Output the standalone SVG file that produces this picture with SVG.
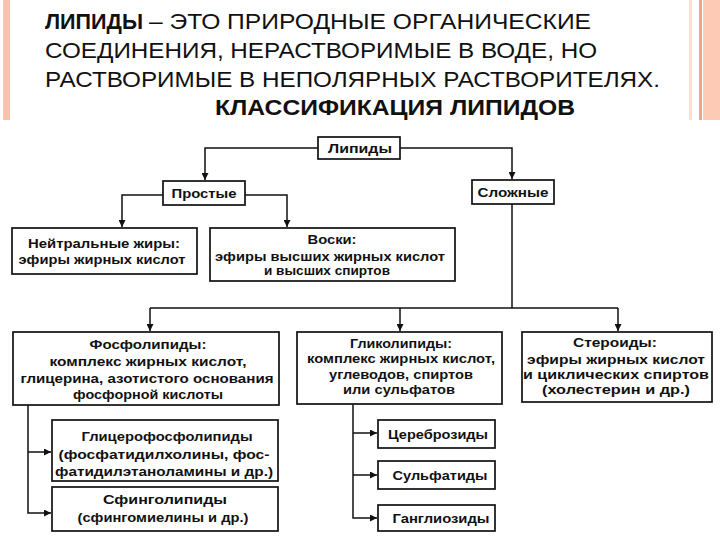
<svg xmlns="http://www.w3.org/2000/svg" width="720" height="540" viewBox="0 0 720 540">
<style>
.t{font-family:"Liberation Sans",Arial,sans-serif;font-size:22px;fill:#111}
.tb{font-family:"Liberation Sans",Arial,sans-serif;font-size:22px;font-weight:bold;fill:#111}
.bx{fill:#fff;stroke:#111;stroke-width:1.7}
.n{font-family:"Liberation Sans",Arial,sans-serif;font-size:13.5px;font-weight:bold;fill:#111;text-anchor:middle}
.c{fill:none;stroke:#111;stroke-width:1.5}
</style>
<defs>
<marker id="ar" viewBox="0 0 8 8" refX="8" refY="4" markerWidth="7" markerHeight="7" markerUnits="userSpaceOnUse" orient="auto">
<path d="M0,0 L8,4 L0,8 Z" fill="#111"/>
</marker>
</defs>
<rect width="720" height="540" fill="#fff"/>
<g id="decor">
<rect x="3" y="0" width="7" height="120" fill="#f6c3b1"/>
<rect x="689" y="0" width="3" height="120" fill="#f7ddd2"/>
<rect x="699" y="0" width="3" height="120" fill="#f0a482"/>
<rect x="703" y="0" width="17" height="120" fill="#fccab5"/>
</g>
<g id="title">
<text class="tb" x="45" y="29" textLength="98" lengthAdjust="spacingAndGlyphs">ЛИПИДЫ</text>
<text class="t" x="149" y="29" textLength="442" lengthAdjust="spacingAndGlyphs">– ЭТО ПРИРОДНЫЕ ОРГАНИЧЕСКИЕ</text>
<text class="t" x="45" y="58" textLength="552" lengthAdjust="spacingAndGlyphs">СОЕДИНЕНИЯ, НЕРАСТВОРИМЫЕ В ВОДЕ, НО</text>
<text class="t" x="45" y="87" textLength="615" lengthAdjust="spacingAndGlyphs">РАСТВОРИМЫЕ В НЕПОЛЯРНЫХ РАСТВОРИТЕЛЯХ.</text>
<text class="tb" x="215" y="115" textLength="360" lengthAdjust="spacingAndGlyphs">КЛАССИФИКАЦИЯ ЛИПИДОВ</text>
</g>
<g id="connectors">
<path class="c" d="M318,148 H205 V180" marker-end="url(#ar)"/>
<path class="c" d="M400,148 H512 V179" marker-end="url(#ar)"/>
<path class="c" d="M163,195 H122 V227" marker-end="url(#ar)"/>
<path class="c" d="M245,195 H287 V227" marker-end="url(#ar)"/>
<path class="c" d="M512,204 V308"/>
<path class="c" d="M150,308 H618"/>
<path class="c" d="M150,308 V331" marker-end="url(#ar)"/>
<path class="c" d="M400,308 V331" marker-end="url(#ar)"/>
<path class="c" d="M618,308 V331" marker-end="url(#ar)"/>
<path class="c" d="M28,405 V513 H51" marker-end="url(#ar)"/>
<path class="c" d="M28,452 H51" marker-end="url(#ar)"/>
<path class="c" d="M353,404 V518 H377" marker-end="url(#ar)"/>
<path class="c" d="M353,433 H377" marker-end="url(#ar)"/>
<path class="c" d="M353,475 H377" marker-end="url(#ar)"/>
</g>
<g id="lipidy">
<rect class="bx" x="318" y="137" width="82" height="22"/>
<text class="n" x="360" y="153" textLength="64" lengthAdjust="spacingAndGlyphs">Липиды</text>
</g>
<g id="prostye">
<rect class="bx" x="163" y="181" width="82" height="24"/>
<text class="n" x="204" y="198" textLength="65" lengthAdjust="spacingAndGlyphs">Простые</text>
</g>
<g id="slozhnye">
<rect class="bx" x="472" y="180" width="82" height="24"/>
<text class="n" x="513" y="197" textLength="71" lengthAdjust="spacingAndGlyphs">Сложные</text>
</g>
<g id="neutral">
<rect class="bx" x="12" y="228" width="185" height="46"/>
<text class="n" x="104" y="248" textLength="152" lengthAdjust="spacingAndGlyphs">Нейтральные жиры:</text>
<text class="n" x="102" y="264" textLength="167" lengthAdjust="spacingAndGlyphs">эфиры жирных кислот</text>
</g>
<g id="voski">
<rect class="bx" x="210" y="228" width="245" height="53"/>
<text class="n" x="332" y="244" textLength="49" lengthAdjust="spacingAndGlyphs">Воски:</text>
<text class="n" x="330" y="261" textLength="230" lengthAdjust="spacingAndGlyphs">эфиры высших жирных кислот</text>
<text class="n" x="327" y="275" textLength="126" lengthAdjust="spacingAndGlyphs">и высших спиртов</text>
</g>
<g id="fosfolipidy">
<rect class="bx" x="13" y="332" width="266" height="73"/>
<text class="n" x="148" y="349" textLength="117" lengthAdjust="spacingAndGlyphs">Фосфолипиды:</text>
<text class="n" x="148" y="366" textLength="197" lengthAdjust="spacingAndGlyphs">комплекс жирных кислот,</text>
<text class="n" x="147" y="383" textLength="253" lengthAdjust="spacingAndGlyphs">глицерина, азотистого основания</text>
<text class="n" x="148" y="399" textLength="150" lengthAdjust="spacingAndGlyphs">фосфорной кислоты</text>
</g>
<g id="glikolipidy">
<rect class="bx" x="297" y="332" width="205" height="72"/>
<text class="n" x="401" y="348" textLength="102" lengthAdjust="spacingAndGlyphs">Гликолипиды:</text>
<text class="n" x="401" y="363" textLength="188" lengthAdjust="spacingAndGlyphs">комплекс жирных кислот,</text>
<text class="n" x="401" y="379" textLength="144" lengthAdjust="spacingAndGlyphs">углеводов, спиртов</text>
<text class="n" x="399" y="394" textLength="112" lengthAdjust="spacingAndGlyphs">или сульфатов</text>
</g>
<g id="steroidy">
<rect class="bx" x="522" y="332" width="190" height="70"/>
<text class="n" x="615" y="347" textLength="84" lengthAdjust="spacingAndGlyphs">Стероиды:</text>
<text class="n" x="616" y="364" textLength="178" lengthAdjust="spacingAndGlyphs">эфиры жирных кислот</text>
<text class="n" x="616" y="379" textLength="186" lengthAdjust="spacingAndGlyphs">и циклических спиртов</text>
<text class="n" x="616" y="394" textLength="148" lengthAdjust="spacingAndGlyphs">(холестерин и др.)</text>
</g>
<g id="glicerofosfolipidy">
<rect class="bx" x="52" y="420" width="226" height="61"/>
<text class="n" x="167" y="441" textLength="171" lengthAdjust="spacingAndGlyphs">Глицерофосфолипиды</text>
<text class="n" x="164" y="459" textLength="211" lengthAdjust="spacingAndGlyphs">(фосфатидилхолины, фос-</text>
<text class="n" x="164" y="476" textLength="218" lengthAdjust="spacingAndGlyphs">фатидилэтаноламины и др.)</text>
</g>
<g id="sfingolipidy">
<rect class="bx" x="52" y="487" width="226" height="44"/>
<text class="n" x="165" y="504" textLength="124" lengthAdjust="spacingAndGlyphs">Сфинголипиды</text>
<text class="n" x="163" y="522" textLength="171" lengthAdjust="spacingAndGlyphs">(сфингомиелины и др.)</text>
</g>
<g id="cerebrozidy">
<rect class="bx" x="378" y="420" width="117" height="28"/>
<text class="n" x="438" y="439" textLength="100" lengthAdjust="spacingAndGlyphs">Цереброзиды</text>
</g>
<g id="sulfatidy">
<rect class="bx" x="378" y="461" width="117" height="28"/>
<text class="n" x="440" y="480" textLength="95" lengthAdjust="spacingAndGlyphs">Сульфатиды</text>
</g>
<g id="gangliozidy">
<rect class="bx" x="378" y="505" width="117" height="26"/>
<text class="n" x="441" y="523" textLength="97" lengthAdjust="spacingAndGlyphs">Ганглиозиды</text>
</g>
</svg>
